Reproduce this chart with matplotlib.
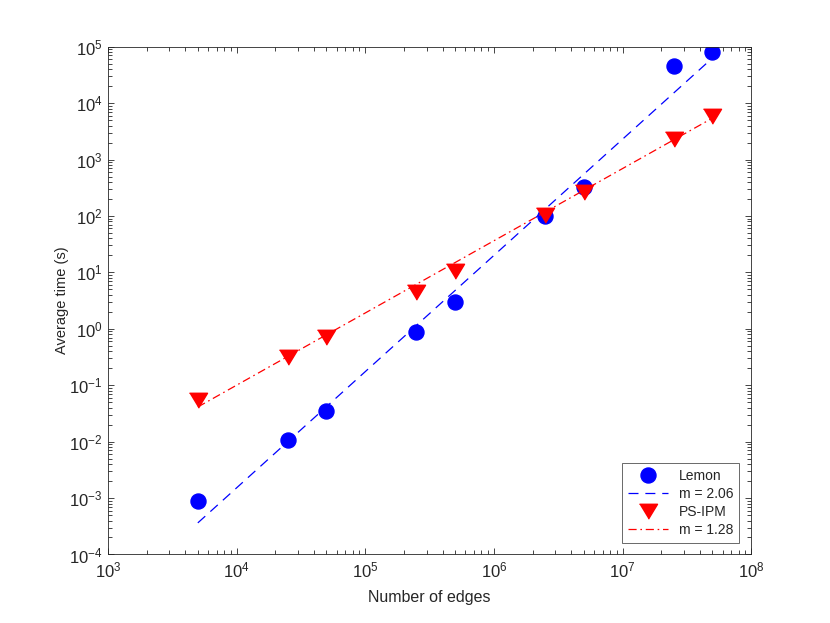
import numpy as np
import matplotlib
matplotlib.use("Agg")
import matplotlib.pyplot as plt
from matplotlib.ticker import LogLocator, NullFormatter

plt.rcParams['font.family'] = ['Liberation Sans', 'DejaVu Sans']
plt.rcParams['mathtext.fontset'] = 'custom'
plt.rcParams['mathtext.rm'] = 'Liberation Sans'
plt.rcParams['mathtext.it'] = 'Liberation Sans'
plt.rcParams['axes.unicode_minus'] = False

# Data
edges = [5e3, 2.5e4, 5e4, 2.5e5, 5e5, 2.5e6, 5e6, 2.5e7, 5e7]
lemon_time = [8.7e-4, 0.0107, 0.035, 0.87, 2.98, 101, 330, 46000, 81500]
psipm_time = [0.0547, 0.32, 0.71, 4.55, 10.6, 104, 263, 2280, 5980]
# fitted power laws: log10(t) = m*log10(E) + c
lemon_fit = (2.06, -11.06)
psipm_fit = (1.28, -6.12)
labels = ['Lemon', 'm = 2.06', 'PS-IPM', 'm = 1.28']

ax_color = (0.15, 0.15, 0.15)
fs = 12

fig = plt.figure(figsize=(8.3, 6.23), dpi=100)
ax = fig.add_axes([0.13, 0.11, 0.775, 0.815])

x = np.array(edges)
tri = [(-1, 0.8), (1, 0.8), (0, -0.85)]

ax.plot(x, lemon_time, linestyle='none', marker='o', markersize=10.8,
        color=(0, 0, 1), label=labels[0])
ax.plot(x, 10 ** (lemon_fit[0] * np.log10(x) + lemon_fit[1]),
        color=(0, 0, 1), linewidth=0.9, linestyle=(0, (8, 5.5)), label=labels[1])
ax.plot(x, psipm_time, linestyle='none', marker=tri, markersize=13,
        color=(1, 0, 0), label=labels[2])
ax.plot(x, 10 ** (psipm_fit[0] * np.log10(x) + psipm_fit[1]),
        color=(1, 0, 0), linewidth=0.9, linestyle=(0, (6.5, 3, 1.3, 3)), label=labels[3])

ax.set_xscale('log')
ax.set_yscale('log')
ax.set_xlim(1e3, 1e8)
ax.set_ylim(1e-4, 1e5)

ax.xaxis.set_major_locator(LogLocator(base=10, numticks=20))
ax.yaxis.set_major_locator(LogLocator(base=10, numticks=20))
ax.xaxis.set_minor_locator(LogLocator(base=10, subs=np.arange(2, 10), numticks=20))
ax.yaxis.set_minor_locator(LogLocator(base=10, subs=np.arange(2, 10), numticks=20))
ax.xaxis.set_minor_formatter(NullFormatter())
ax.yaxis.set_minor_formatter(NullFormatter())

ax.tick_params(which='both', direction='in', top=True, right=True,
               color=ax_color, labelcolor=ax_color, labelsize=fs, width=0.6)
ax.tick_params(which='major', length=4.6, pad=4)
ax.tick_params(which='minor', length=3.0)
for s in ax.spines.values():
    s.set_color(ax_color)
    s.set_linewidth(0.6)

ax.set_xlabel('Number of edges', fontsize=11.5, color=ax_color, labelpad=7)
ax.set_ylabel('Average time (s)', fontsize=10.5, color=ax_color, labelpad=0)

leg = ax.legend(loc='lower right', fontsize=10, frameon=True, fancybox=False,
                handlelength=2.9, handletextpad=0.8, borderaxespad=0.85,
                labelspacing=0.3, borderpad=0.4)
leg.get_frame().set_edgecolor(ax_color)
leg.get_frame().set_linewidth(0.6)
for t in leg.get_texts():
    t.set_color(ax_color)
for ln, c in zip(leg.get_lines(), [(0, 0, 1), (0, 0, 1), (1, 0, 0), (1, 0, 0)]):
    ln.set_color(c)

fig.savefig('out.png', dpi=100, facecolor='white')
